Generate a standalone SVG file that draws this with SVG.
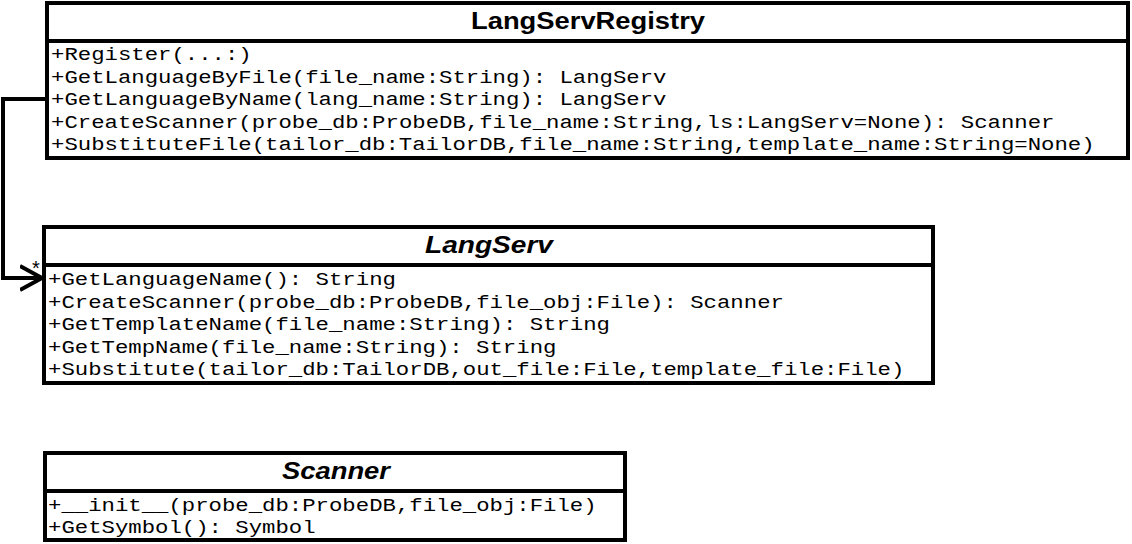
<svg xmlns="http://www.w3.org/2000/svg" width="1132" height="544" viewBox="0 0 1132 544">
<style>
.box{fill:#fff;stroke:#000;stroke-width:4}
.div{stroke:#000;stroke-width:4}
.title{font-family:"Liberation Sans",Arial,sans-serif;font-weight:bold;font-size:24px;fill:#000}
.it{font-style:italic}
.m{font-family:"Liberation Mono","Courier New",monospace;font-size:19px;fill:#000}
.conn{fill:none;stroke:#000;stroke-width:4}
.mult{font-family:"Liberation Sans",Arial,sans-serif;font-size:20px;fill:#000}
</style>
<defs>
<marker id="open" markerUnits="userSpaceOnUse" markerWidth="30" markerHeight="30" refX="22" refY="12" orient="auto" viewBox="0 0 30 24">
<path d="M0,0 L22,12 L0,24" fill="none" stroke="#000" stroke-width="4"/>
</marker>
</defs>
<g id="connectors">
<path class="conn" d="M47,99 H3 V278 H42" marker-end="url(#open)"/>
<text class="mult" x="32" y="275">*</text>
</g>
<g id="LangServRegistry">
<rect class="box" x="47" y="3" width="1081" height="155"/>
<line class="div" x1="47" y1="41" x2="1128" y2="41"/>
<text class="title" x="588" y="29" text-anchor="middle" textLength="234" lengthAdjust="spacingAndGlyphs">LangServRegistry</text>
<text class="m" x="51" y="60" textLength="200.7" lengthAdjust="spacingAndGlyphs">+Register(...:)</text>
<text class="m" x="51" y="82.5" textLength="615.5" lengthAdjust="spacingAndGlyphs">+GetLanguageByFile(file_name:String): LangServ</text>
<text class="m" x="51" y="105" textLength="615.5" lengthAdjust="spacingAndGlyphs">+GetLanguageByName(lang_name:String): LangServ</text>
<text class="m" x="51" y="127.5" textLength="1003.5" lengthAdjust="spacingAndGlyphs">+CreateScanner(probe_db:ProbeDB,file_name:String,ls:LangServ=None): Scanner</text>
<text class="m" x="51" y="150" textLength="1043.6" lengthAdjust="spacingAndGlyphs">+SubstituteFile(tailor_db:TailorDB,file_name:String,template_name:String=None)</text>
</g>
<g id="LangServ">
<rect class="box" x="44" y="227" width="889" height="156"/>
<line class="div" x1="44" y1="265" x2="933" y2="265"/>
<text class="title it" x="489" y="253" text-anchor="middle" textLength="128" lengthAdjust="spacingAndGlyphs">LangServ</text>
<text class="m" x="48" y="285" textLength="347.9" lengthAdjust="spacingAndGlyphs">+GetLanguageName(): String</text>
<text class="m" x="48" y="307.5" textLength="735.9" lengthAdjust="spacingAndGlyphs">+CreateScanner(probe_db:ProbeDB,file_obj:File): Scanner</text>
<text class="m" x="48" y="330" textLength="562" lengthAdjust="spacingAndGlyphs">+GetTemplateName(file_name:String): String</text>
<text class="m" x="48" y="352.5" textLength="508.4" lengthAdjust="spacingAndGlyphs">+GetTempName(file_name:String): String</text>
<text class="m" x="48" y="375" textLength="856.3" lengthAdjust="spacingAndGlyphs">+Substitute(tailor_db:TailorDB,out_file:File,template_file:File)</text>
</g>
<g id="Scanner">
<rect class="box" x="45" y="453" width="580" height="87"/>
<line class="div" x1="45" y1="491" x2="625" y2="491"/>
<text class="title it" x="336" y="479" text-anchor="middle" textLength="108" lengthAdjust="spacingAndGlyphs">Scanner</text>
<text class="m" x="48" y="511" textLength="548.6" lengthAdjust="spacingAndGlyphs">+__init__(probe_db:ProbeDB,file_obj:File)</text>
<text class="m" x="48" y="533" textLength="267.6" lengthAdjust="spacingAndGlyphs">+GetSymbol(): Symbol</text>
</g>
</svg>
